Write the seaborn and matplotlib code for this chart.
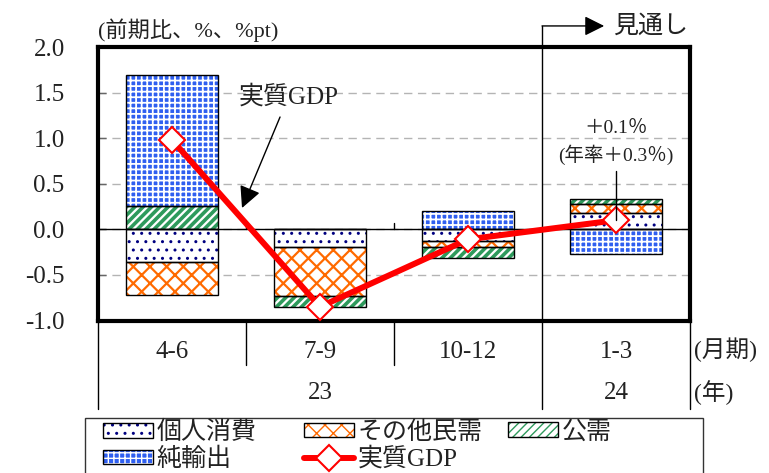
import numpy as np
import matplotlib
matplotlib.use("Agg")
import matplotlib.pyplot as plt
import matplotlib.transforms as mtransforms
from matplotlib.patches import Patch, Rectangle
from matplotlib.lines import Line2D
import seaborn as sns

# ---- data (contributions to q/q real GDP growth, %pt) ----
quarters = ["4-6", "7-9", "10-12", "1-3"]
years = ["23", "24"]
year_first_q = [0, 3]
year_last_q = [2, 3]
private_consumption = [-0.36, -0.19, -0.125, 0.18]
other_private = [-0.36, -0.545, -0.07, 0.095]
public_demand = [0.26, -0.115, -0.115, 0.055]
net_exports = [1.435, 0.0, 0.205, -0.27]
real_gdp = [0.98, -0.85, -0.11, 0.1]
ytick_values = [-1.0, -0.5, 0.0, 0.5, 1.0, 1.5, 2.0]
ytick_labels = ["-1.0", "-0.5", "0.0", "0.5", "1.0", "1.5", "2.0"]

sns.set_theme(style="white")
plt.rcParams["font.family"] = ["Liberation Serif", "Noto Sans CJK JP"]
plt.rcParams["axes.unicode_minus"] = False

fig = plt.figure(figsize=(7.69, 4.73), dpi=100)
ax = fig.add_axes([98 / 769, 1 - 320.5 / 473, 592 / 769, 273.5 / 473])

components = [
    ("個人消費", private_consumption, dict(face="white", hc="#000080", hatch="..", hlw=1.0)),
    ("その他民需", other_private, dict(face="white", hc="#ff6a00", hatch="xx", hlw=1.6)),
    ("公需", public_demand, dict(face="white", hc="#2e9a5c", hatch="////", hlw=2.6)),
    ("純輸出", net_exports, dict(face="#2f5ff0", hc="white", hatch="+++", hlw=1.3)),
]

bar_w = 0.62
pos_base = np.zeros(len(quarters))
neg_base = np.zeros(len(quarters))
legend_handles = {}
for name, vals, st in components:
    v = np.asarray(vals, dtype=float)
    bottom = np.where(v >= 0, pos_base, neg_base)
    n0 = len(ax.patches)
    with plt.rc_context({"hatch.linewidth": st["hlw"]}):
        sns.barplot(x=quarters, y=v, bottom=bottom, width=bar_w, errorbar=None,
                    color=st["face"], saturation=1, facecolor=st["face"],
                    edgecolor=st["hc"], hatch=st["hatch"], linewidth=0, ax=ax, zorder=1)
    for p in ax.patches[n0:]:
        if hasattr(p, "set_hatch_linewidth"):
            p.set_hatch_linewidth(st["hlw"])
    sns.barplot(x=quarters, y=v, bottom=bottom, width=bar_w, errorbar=None,
                color="black", fill=False, edgecolor="black", linewidth=1.0,
                ax=ax, zorder=1.2)
    pos_base += np.where(v > 0, v, 0)
    neg_base += np.where(v < 0, v, 0)
    with plt.rc_context({"hatch.linewidth": st["hlw"]}):
        fill_h = Patch(facecolor=st["face"], edgecolor=st["hc"], hatch=st["hatch"], linewidth=0)
    if hasattr(fill_h, "set_hatch_linewidth"):
        fill_h.set_hatch_linewidth(st["hlw"])
    legend_handles[name] = (fill_h, Patch(facecolor="none", edgecolor="black", linewidth=1.0))

# real GDP line
x_pos = np.arange(len(quarters))
sns.lineplot(x=x_pos, y=real_gdp, color="#ff0000", linewidth=4.3, marker="D",
             markersize=13, markerfacecolor="white", markeredgecolor="#ff0000",
             markeredgewidth=1.5, legend=False, ax=ax, zorder=3)
legend_handles["実質GDP"] = Line2D([], [], color="#ff0000", linewidth=4.3, marker="D",
                                  markersize=13, markerfacecolor="white",
                                  markeredgecolor="#ff0000", markeredgewidth=1.5)

ax.axhline(0, color="black", linewidth=1.0, zorder=1.5)

# axes styling
ax.set_xlim(-0.5, len(quarters) - 0.5)
ax.set_ylim(ytick_values[0], ytick_values[-1])
ax.set_yticks(ytick_values)
ax.set_yticklabels(ytick_labels)
ax.set_ylabel("")
ax.set_xlabel("")
ax.grid(axis="y", color="#b4b4b4", linestyle=(0, (6, 4)), linewidth=1.0)
ax.set_axisbelow(True)
for s in ax.spines.values():
    s.set_visible(True)
    s.set_linewidth(3.0)
    s.set_color("black")
ax.tick_params(axis="y", direction="in", length=6, width=1, color="#666666",
               labelsize=18, labelcolor="#222222", pad=24, left=True)
ax.tick_params(axis="x", length=0, labelsize=18, labelcolor="#222222", pad=15)

# small marks at quarter boundaries on the zero line
for b in [0.5, 1.5]:
    ax.plot([b, b], [0, 0.07], color="black", linewidth=1.0, zorder=1.5)

# table lines below the plot
bt = mtransforms.blended_transform_factory(ax.transData, ax.transAxes)
n = len(quarters)
for b in np.arange(-0.5, n, 1.0):
    year_edge = b in (-0.5, n - 0.5) or any(b == f - 0.5 for f in year_first_q)
    low = -0.324 if year_edge else -0.163
    top = 1.077 if b == year_first_q[1] - 0.5 else 0
    ax.plot([b, b], [top, low], color="black", linewidth=1.0, transform=bt, clip_on=False)

for yl, f, l in zip(years, year_first_q, year_last_q):
    ax.text((f + l) / 2, -0.265, yl, transform=bt, ha="center", va="center",
            fontsize=18, color="#222222")
ax.text(1.006, -0.108, "(月期)", transform=ax.transAxes, ha="left", va="center",
        fontsize=17, color="#222222")
ax.text(1.006, -0.265, "(年)", transform=ax.transAxes, ha="left", va="center",
        fontsize=17, color="#222222")

# unit label
ax.text(0.0, 1.062, "(前期比、%、%pt)", transform=ax.transAxes, ha="left", va="center",
        fontsize=16, color="#222222")

# forecast marker
fc = year_first_q[1] - 0.5
ax.annotate("", xy=(fc + 0.42, 1.077), xytext=(fc, 1.077), xycoords=bt, textcoords=bt,
            arrowprops=dict(arrowstyle="-|>,head_length=0.6,head_width=0.3", color="black",
                            lw=1.0, shrinkA=0, shrinkB=0, mutation_scale=20),
            annotation_clip=False)
ax.text(fc + 0.48, 1.077, "見通し", transform=bt, ha="left", va="center",
        fontsize=18, color="#222222")

# GDP callout
ax.text(0.79, 1.45, "実質GDP", ha="center", va="center", fontsize=18, color="#222222")
ax.annotate("", xy=(0.473, 0.234), xytext=(0.73, 1.232),
            arrowprops=dict(arrowstyle="-|>,head_length=0.6,head_width=0.3", color="black",
                            lw=1.0, shrinkA=0, shrinkB=0, mutation_scale=22))

# latest quarter annotation
last = len(quarters) - 1
ax.plot([last, last], [0.64, real_gdp[last]], color="black", linewidth=1.0, zorder=4)
ax.text(last, 1.11, "＋0.1％", ha="center", va="center", fontsize=14, color="#222222")
ax.text(last, 0.815, "(年率＋0.3％)", ha="center", va="center", fontsize=14, color="#222222")

# legend in three columns inside one frame
fig.add_artist(Rectangle((85 / 769, -0.1), 618 / 769, 0.1 + 1 - 418 / 473,
                         transform=fig.transFigure, facecolor="none",
                         edgecolor="#333333", linewidth=1.0, clip_on=False))
legend_cols = [["個人消費", "純輸出"], ["その他民需", "実質GDP"], ["公需"]]
col_x = [103, 304, 508]
for names, cx in zip(legend_cols, col_x):
    leg = fig.legend([legend_handles[k] for k in names], names, loc="upper left",
                     bbox_to_anchor=(cx / 769, 1 - 421 / 473), frameon=False,
                     fontsize=18, borderpad=0, borderaxespad=0, handlelength=2.0,
                     handleheight=0.5, handletextpad=0.15, labelspacing=0.12,
                     labelcolor="#222222")

fig.savefig("out.png", dpi=100)
